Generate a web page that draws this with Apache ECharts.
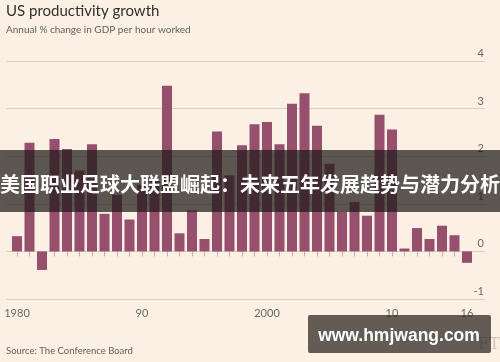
<!DOCTYPE html>
<html>
<head>
<meta charset="utf-8">
<script src="https://cdn.jsdelivr.net/npm/echarts@6/dist/echarts.min.js"></script>
<style>
html,body{margin:0;padding:0;background:#fcefe3;}
#c{width:500px;height:362px;}
</style>
</head>
<body>
<div id="c"></div>
<script>
const years = ['1980','1981','1982','1983','1984','1985','1986','1987','1988','1989','1990','1991','1992','1993','1994','1995','1996','1997','1998','1999','2000','2001','2002','2003','2004','2005','2006','2007','2008','2009','2010','2011','2012','2013','2014','2015','2016'];
const growth = [0.32,2.28,-0.39,2.36,2.15,1.7,2.25,0.79,1.19,0.67,1.4,1.5,3.48,0.38,0.86,0.26,2.52,1.6,2.23,2.67,2.72,2.25,3.10,3.32,2.64,1.84,0.83,1.04,0.75,2.87,2.56,0.06,0.49,0.26,0.54,0.34,-0.24];
const tickYears = ['1980','1990','2000','2010','2016'];
const tickLabels = ['1980','90','2000','10','16'];
const yMin = -1, yMax = 4, yStep = 1;

const chart = echarts.init(document.getElementById('c'), null, {renderer:'canvas'});
const font = 'Lato, "Open Sans", sans-serif';
chart.setOption({
  backgroundColor: '#fcefe3',
  animation: false,
  grid: [
    {left: 6, right: 15, top: 61, bottom: 63},
    {left: 10.75, width: 462.5, top: 61, bottom: 63}
  ],
  xAxis: [
    {gridIndex: 0, type: 'value', min: 0, max: 1, show: false},
    {gridIndex: 1, type: 'category', data: years, boundaryGap: true,
     axisLine: {show: false},
     axisTick: {show: true, alignWithLabel: true, interval: 0, length: 5, lineStyle: {color: '#bcb2a9'}},
     axisLabel: {
       interval: (i, v) => tickYears.indexOf(v) >= 0,
       formatter: v => { const k = tickYears.indexOf(v); return k >= 0 ? tickLabels[k] : ''; },
       color: '#6d6864', fontSize: 11, fontFamily: font, margin: 9
     }}
  ],
  yAxis: [
    {gridIndex: 0, type: 'value', min: yMin, max: yMax, interval: yStep, position: 'right',
     axisLine: {show: false}, axisTick: {show: false},
     splitLine: {show: true, lineStyle: {color: '#d8cdc3', width: 1}},
     axisLabel: {inside: true, margin: 1, verticalAlign: 'bottom', padding: [0,0,2,0],
       color: '#6d6864', fontSize: 11, fontFamily: font}},
    {gridIndex: 1, type: 'value', min: yMin, max: yMax, interval: yStep, show: false}
  ],
  series: [{
    type: 'bar', xAxisIndex: 1, yAxisIndex: 1, data: growth, barWidth: 10,
    itemStyle: {color: '#96506e'}
  }],
  graphic: [
    {type: 'text', left: 6, top: 4, style: {text: 'US productivity growth', font: '15px ' + font, fill: '#33302e'}},
    {type: 'text', left: 6, top: 25, style: {text: 'Annual % change in GDP per hour worked', font: '10px ' + font, fill: '#66605c'}},
    {type: 'text', left: 6, top: 346, style: {text: 'Source: The Conference Board', font: '9.5px ' + font, fill: '#66605c'}},
    {type: 'text', left: 478, top: 337, style: {text: 'FT', font: '16px "DejaVu Serif", serif', fill: '#cfc4ba'}},
    {type: 'rect', shape: {x: 0, y: 150, width: 500, height: 62}, style: {fill: 'rgba(30,27,25,0.72)'}, z: 100},
    {type: 'text', x: 250, y: 184, z: 101, style: {text: '美国职业足球大联盟崛起：未来五年发展趋势与潜力分析', font: 'bold 20px "Noto Sans CJK SC"', fill: '#ffffff', textAlign: 'center', textVerticalAlign: 'middle'}},
    {type: 'rect', shape: {x: 308, y: 315, width: 183, height: 38, r: 2}, style: {fill: 'rgba(50,45,40,0.76)'}, z: 100},
    {type: 'text', x: 399, y: 336, z: 101, style: {text: 'www.hmjwang.com', font: 'bold 17.5px "Liberation Sans", sans-serif', fill: '#ffffff', textAlign: 'center', textVerticalAlign: 'middle'}}
  ]
});
</script>
</body>
</html>
